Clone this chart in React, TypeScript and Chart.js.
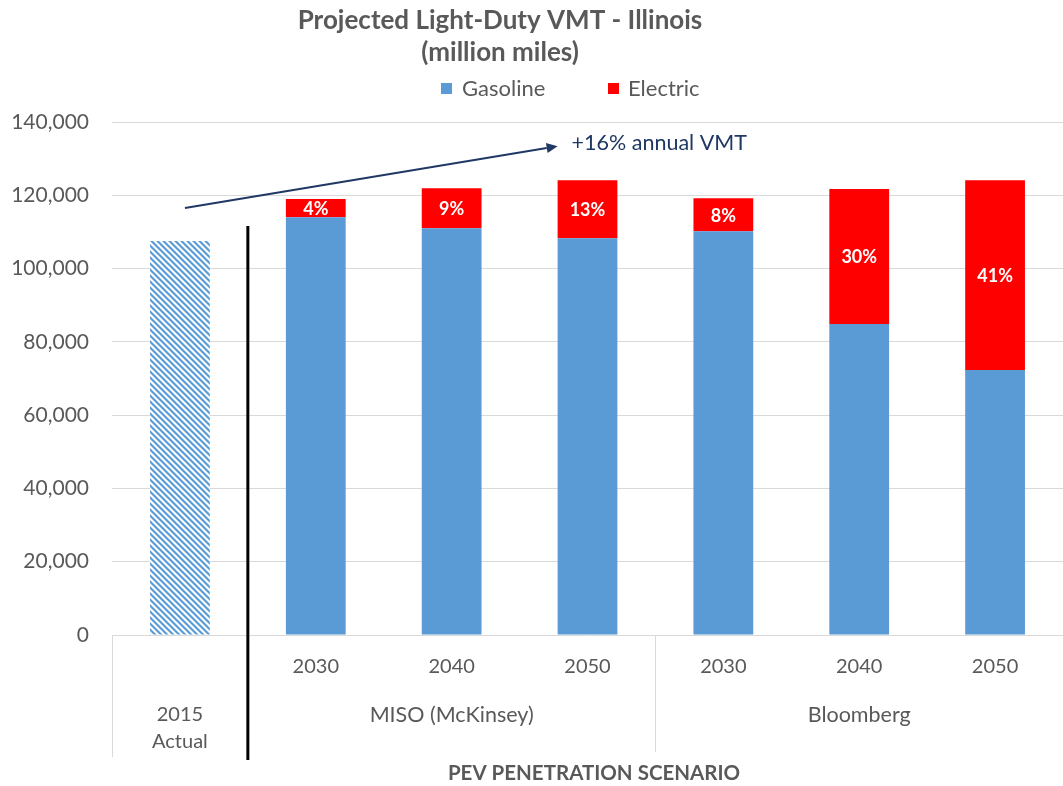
import React, { useEffect, useRef } from "react";
import { Chart, registerables } from "chart.js";

Chart.register(...registerables);

// ---- data ----
const categories = ["2015 Actual", "MISO 2030", "MISO 2040", "MISO 2050", "Bloomberg 2030", "Bloomberg 2040", "Bloomberg 2050"];
const yearLabels = ["", "2030", "2040", "2050", "2030", "2040", "2050"];
const groupLabels = ["MISO (McKinsey)", "Bloomberg"];
const groupStart = [1, 4];
const groupEnd = [3, 6];
const actualLabel = ["2015", "Actual"];
const gasoline = [107500, 114000, 111000, 108300, 110200, 84900, 72300];
const electric = [null, 5000, 10900, 15800, 9000, 36800, 51800];
const electricShare = ["", "4%", "9%", "13%", "8%", "30%", "41%"];
const yMin = 0;
const yMax = 140000;
const yStep = 20000;
const titleLines = ["Projected Light-Duty VMT - Illinois", "(million miles)"];
const axisTitle = "PEV PENETRATION SCENARIO";
const annotationText = "+16% annual VMT";

const FONT = "Lato, 'Open Sans', sans-serif";
const GREY_TEXT = "#595959";
const BLUE = "#5B9BD5";
const RED = "#FF0000";
const NAVY = "#1F3864";

function makeHatch(): CanvasPattern | string {
  const c = document.createElement("canvas");
  const s = 6;
  c.width = s;
  c.height = s;
  const g = c.getContext("2d");
  if (!g) return BLUE;
  g.fillStyle = "#ffffff";
  g.fillRect(0, 0, s, s);
  for (let y = 0; y < s; y++) {
    for (let x = 0; x < s; x++) {
      const k = (((x - y) % s) + s) % s;
      if (k < 2) {
        g.fillStyle = BLUE;
        g.fillRect(x, y, 1, 1);
      } else if (k === 2 || k === 5) {
        g.fillStyle = "#A9CBEA";
        g.fillRect(x, y, 1, 1);
      }
    }
  }
  const p = g.createPattern(c, "repeat");
  return p || BLUE;
}

const decorPlugin = {
  id: "decor",
  afterDraw(chart: any) {
    const ctx = chart.ctx as CanvasRenderingContext2D;
    const xs = chart.scales.x;
    const ys = chart.scales.y;
    const area = chart.chartArea;
    ctx.save();

    // title
    ctx.fillStyle = GREY_TEXT;
    ctx.textAlign = "center";
    ctx.textBaseline = "middle";
    ctx.font = `bold 26px ${FONT}`;
    ctx.fillText(titleLines[0], 500, 21);
    ctx.fillText(titleLines[1], 500, 53);

    // legend
    ctx.font = `22px ${FONT}`;
    ctx.textAlign = "left";
    ctx.fillStyle = BLUE;
    ctx.fillRect(441, 83, 11, 11);
    ctx.fillStyle = GREY_TEXT;
    ctx.fillText("Gasoline", 462, 89);
    ctx.fillStyle = RED;
    ctx.fillRect(608, 83, 11, 11);
    ctx.fillStyle = GREY_TEXT;
    ctx.fillText("Electric", 628, 89);

    // electric share labels
    const meta = chart.getDatasetMeta(1);
    ctx.fillStyle = "#ffffff";
    ctx.textAlign = "center";
    ctx.font = `bold 18px ${FONT}`;
    meta.data.forEach((el: any, i: number) => {
      const t = electricShare[i];
      if (!t || electric[i] == null) return;
      ctx.fillText(t, el.x, (el.y + el.base) / 2 + 1);
    });

    // x axis category lines
    const bottom = area.bottom;
    const half = (xs.getPixelForValue(1) - xs.getPixelForValue(0)) / 2;
    ctx.strokeStyle = "#D9D9D9";
    ctx.lineWidth = 1;
    ctx.beginPath();
    ctx.moveTo(area.left + 0.5, bottom);
    ctx.lineTo(area.left + 0.5, 757);
    const mid = xs.getPixelForValue(groupEnd[0]) + half;
    ctx.moveTo(Math.round(mid) + 0.5, bottom);
    ctx.lineTo(Math.round(mid) + 0.5, 752);
    ctx.stroke();

    // black separator
    const sep = xs.getPixelForValue(0) + half;
    ctx.strokeStyle = "#000000";
    ctx.lineWidth = 3;
    ctx.beginPath();
    ctx.moveTo(sep, ys.getPixelForValue(111600));
    ctx.lineTo(sep, 760);
    ctx.stroke();

    // year labels
    ctx.fillStyle = GREY_TEXT;
    ctx.font = `20px ${FONT}`;
    ctx.textAlign = "center";
    yearLabels.forEach((t, i) => {
      if (!t) return;
      ctx.fillText(t, xs.getPixelForValue(i), 667);
    });
    ctx.font = `21.5px ${FONT}`;
    groupLabels.forEach((t, g) => {
      const x = (xs.getPixelForValue(groupStart[g]) + xs.getPixelForValue(groupEnd[g])) / 2;
      ctx.fillText(t, x, 715);
    });
    ctx.font = `20px ${FONT}`;
    ctx.fillText(actualLabel[0], xs.getPixelForValue(0), 715);
    ctx.fillText(actualLabel[1], xs.getPixelForValue(0), 742);

    // axis title
    ctx.font = `bold 20.5px ${FONT}`;
    ctx.fillText(axisTitle, 594, 773);

    // annotation arrow
    const x0 = xs.getPixelForValue(0) + 5;
    const y0 = ys.getPixelForValue(116500);
    const p2 = xs.getPixelForValue(2);
    const p3 = xs.getPixelForValue(3);
    const x1 = p2 + 0.78 * (p3 - p2);
    const y1 = ys.getPixelForValue(133400);
    ctx.strokeStyle = NAVY;
    ctx.fillStyle = NAVY;
    ctx.lineWidth = 2;
    const ang = Math.atan2(y1 - y0, x1 - x0);
    const hl = 11;
    const hw = 5;
    const bx = x1 - hl * Math.cos(ang);
    const by = y1 - hl * Math.sin(ang);
    ctx.beginPath();
    ctx.moveTo(x0, y0);
    ctx.lineTo(bx, by);
    ctx.stroke();
    ctx.beginPath();
    ctx.moveTo(x1, y1);
    ctx.lineTo(bx + hw * Math.sin(ang), by - hw * Math.cos(ang));
    ctx.lineTo(bx - hw * Math.sin(ang), by + hw * Math.cos(ang));
    ctx.closePath();
    ctx.fill();
    ctx.font = `21.5px ${FONT}`;
    ctx.textAlign = "left";
    ctx.fillText(annotationText, x1 + 14, y1 - 3);

    ctx.restore();
  },
};

export default function App() {
  const ref = useRef<HTMLCanvasElement | null>(null);
  useEffect(() => {
    if (!ref.current) return;
    const hatch = makeHatch();
    const gasColors = gasoline.map((_, i) => (i === 0 ? hatch : BLUE));
    const chart = new Chart(ref.current, {
      type: "bar",
      data: {
        labels: categories,
        datasets: [
          { label: "Gasoline", data: gasoline, backgroundColor: gasColors as any, borderWidth: 0 },
          { label: "Electric", data: electric as any, backgroundColor: RED, borderWidth: 0 },
        ],
      },
      options: {
        responsive: false,
        animation: false,
        layout: { padding: { top: 122, right: 0, left: 0, bottom: 0 } },
        plugins: {
          legend: { display: false },
          title: { display: false },
          tooltip: { enabled: false },
        },
        datasets: { bar: { categoryPercentage: 1, barPercentage: 0.44 } },
        scales: {
          x: {
            stacked: true,
            grid: { display: false },
            border: { display: false },
            ticks: { display: false },
            afterFit: (s: any) => {
              s.height = 151;
            },
          },
          y: {
            stacked: true,
            min: yMin,
            max: yMax,
            border: { display: false },
            grid: { color: "#D9D9D9", lineWidth: 1, drawTicks: false },
            ticks: {
              stepSize: yStep,
              padding: 23,
              color: GREY_TEXT,
              font: { family: FONT, size: 21 },
              callback: (v: any) => Number(v).toLocaleString("en-US"),
            },
            afterFit: (s: any) => {
              s.width = 112;
            },
          },
        },
      } as any,
      plugins: [decorPlugin],
    });
    return () => chart.destroy();
  }, []);
  return (
    <div style={{ position: "absolute", left: 0, top: 0, width: 1063, height: 786, background: "#ffffff" }}>
      <canvas ref={ref} width={1063} height={786} style={{ width: 1063, height: 786 }} />
    </div>
  );
}
